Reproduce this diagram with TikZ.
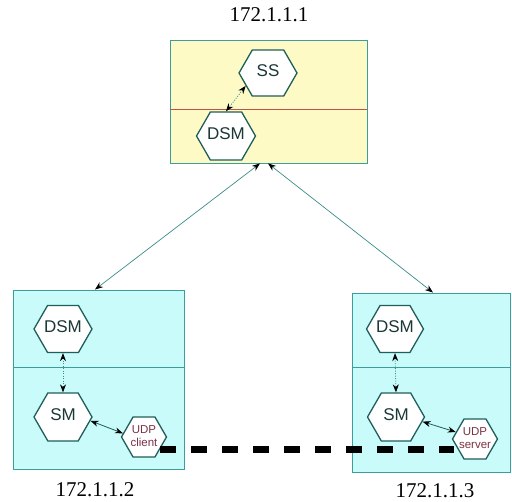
\documentclass[tikz,border=0pt]{standalone}
\usepackage{fontspec}
\setmainfont{Liberation Serif}
\newfontfamily\hexfont{Liberation Sans}
\usetikzlibrary{shapes.symbols,arrows.meta,calc}

\definecolor{hostyellow}{HTML}{FDFAC6}
\definecolor{hostcyan}{HTML}{C9FBFB}
\definecolor{hostedge}{HTML}{3C9E9A}
\definecolor{hexedge}{HTML}{1F5E5A}
\definecolor{hextext}{HTML}{1B3736}
\definecolor{udptext}{HTML}{7A3344}
\definecolor{splitred}{HTML}{C0504A}
\definecolor{linkteal}{HTML}{3A8C88}

% zero-width label, so the hexagon keeps its own size whatever the text
\newcommand{\hexlbl}[1]{\makebox[0pt]{\begin{tabular}{@{}c@{}}#1\end{tabular}}}

\tikzset{
  host/.style={draw=hostedge, line width=0.9pt, rectangle, inner sep=0pt},
  hex/.style={signal, signal to=east and west, signal pointer angle=120,
    draw=hexedge, line width=1.3pt, fill=white, inner sep=0pt,
    font=\hexfont\fontsize{17}{19}\selectfont, text=hextext},
  udp/.style={hex, minimum width=45pt, minimum height=40pt,
    font=\hexfont\fontsize{11.5}{13}\selectfont, text=udptext},
  addr/.style={font=\fontsize{21}{24}\selectfont, text=black},
  link/.style={draw=linkteal, line width=0.7pt,
    {Stealth[length=8pt,width=6pt,color=black]}-{Stealth[length=8pt,width=6pt,color=black]}},
  dotlink/.style={link, dash pattern=on 1pt off 1.5pt, line width=0.8pt},
  solidlink/.style={link, draw=hexedge, line width=0.8pt},
  udplink/.style={draw=black, line width=7pt, dash pattern=on 16pt off 15pt}
}

\begin{document}
\begin{tikzpicture}[x=1pt, y=-1pt]
  \useasboundingbox (0,0) rectangle (512,502);

  % hosts
  \node[host, fill=hostyellow, minimum width=197pt, minimum height=123pt] (top) at (268.5,101.5) {};
  \node[host, fill=hostcyan, minimum width=171pt, minimum height=179pt] (left) at (98.5,379.5) {};
  \node[host, fill=hostcyan, minimum width=158pt, minimum height=179pt] (right) at (431,382.5) {};

  % layer separators
  \draw[splitred, line width=0.8pt] (top.west |- 0,109) -- (top.east |- 0,109);
  \draw[hostedge, line width=0.8pt] (left.west |- 0,367) -- (left.east |- 0,367);
  \draw[hostedge, line width=0.8pt] (right.west |- 0,367) -- (right.east |- 0,367);

  % addresses
  \node[addr] (a1) at (269,15) {172.1.1.1};
  \node[addr] (a2) at (95,490) {172.1.1.2};
  \node[addr] (a3) at (435,491) {172.1.1.3};

  % top host components
  \node[hex, minimum width=58pt, minimum height=46pt] (ss) at (268,73) {\hexlbl{SS}};
  \node[hex, minimum width=59pt, minimum height=48pt] (dsm0) at (226,136) {\hexlbl{DSM}};

  % left host components
  \node[hex, minimum width=58pt, minimum height=47pt] (dsm1) at (63,329) {\hexlbl{DSM}};
  \node[hex, minimum width=58pt, minimum height=48pt] (sm1) at (63,417) {\hexlbl{SM}};

  % right host components
  \node[hex, minimum width=57pt, minimum height=47pt] (dsm2) at (395,329) {\hexlbl{DSM}};
  \node[hex, minimum width=57pt, minimum height=48pt] (sm2) at (396,417) {\hexlbl{SM}};

  % UDP endpoints
  \node[udp] (udp1) at (144,437) {\hexlbl{UDP\\client}};
  \node[udp] (udp2) at (475,439) {\hexlbl{UDP\\server}};

  % UDP link between the two lower hosts
  \coordinate (dashA) at ($(udp1.east)+(-7pt,-13pt)$);
  \draw[udplink] (dashA) -- ([xshift=2.5pt]dashA -| udp2.west);

  % connectors
  \draw[dotlink] (ss.210) -- (dsm0.north);
  \draw[link] ([xshift=-8.5pt]top.south) -- ([xshift=-3.5pt]left.north);
  \draw[link] ([xshift=-0.5pt]top.south) -- ([xshift=2pt]right.north);
  \draw[dotlink] (dsm1.south) -- (sm1.north);
  \draw[dotlink] (dsm2.south) -- (sm2.north);
  \draw[solidlink] (sm1.-8) -- (udp1.170);
  \draw[solidlink] (sm2.-10) -- (udp2.160);
\end{tikzpicture}
\end{document}
